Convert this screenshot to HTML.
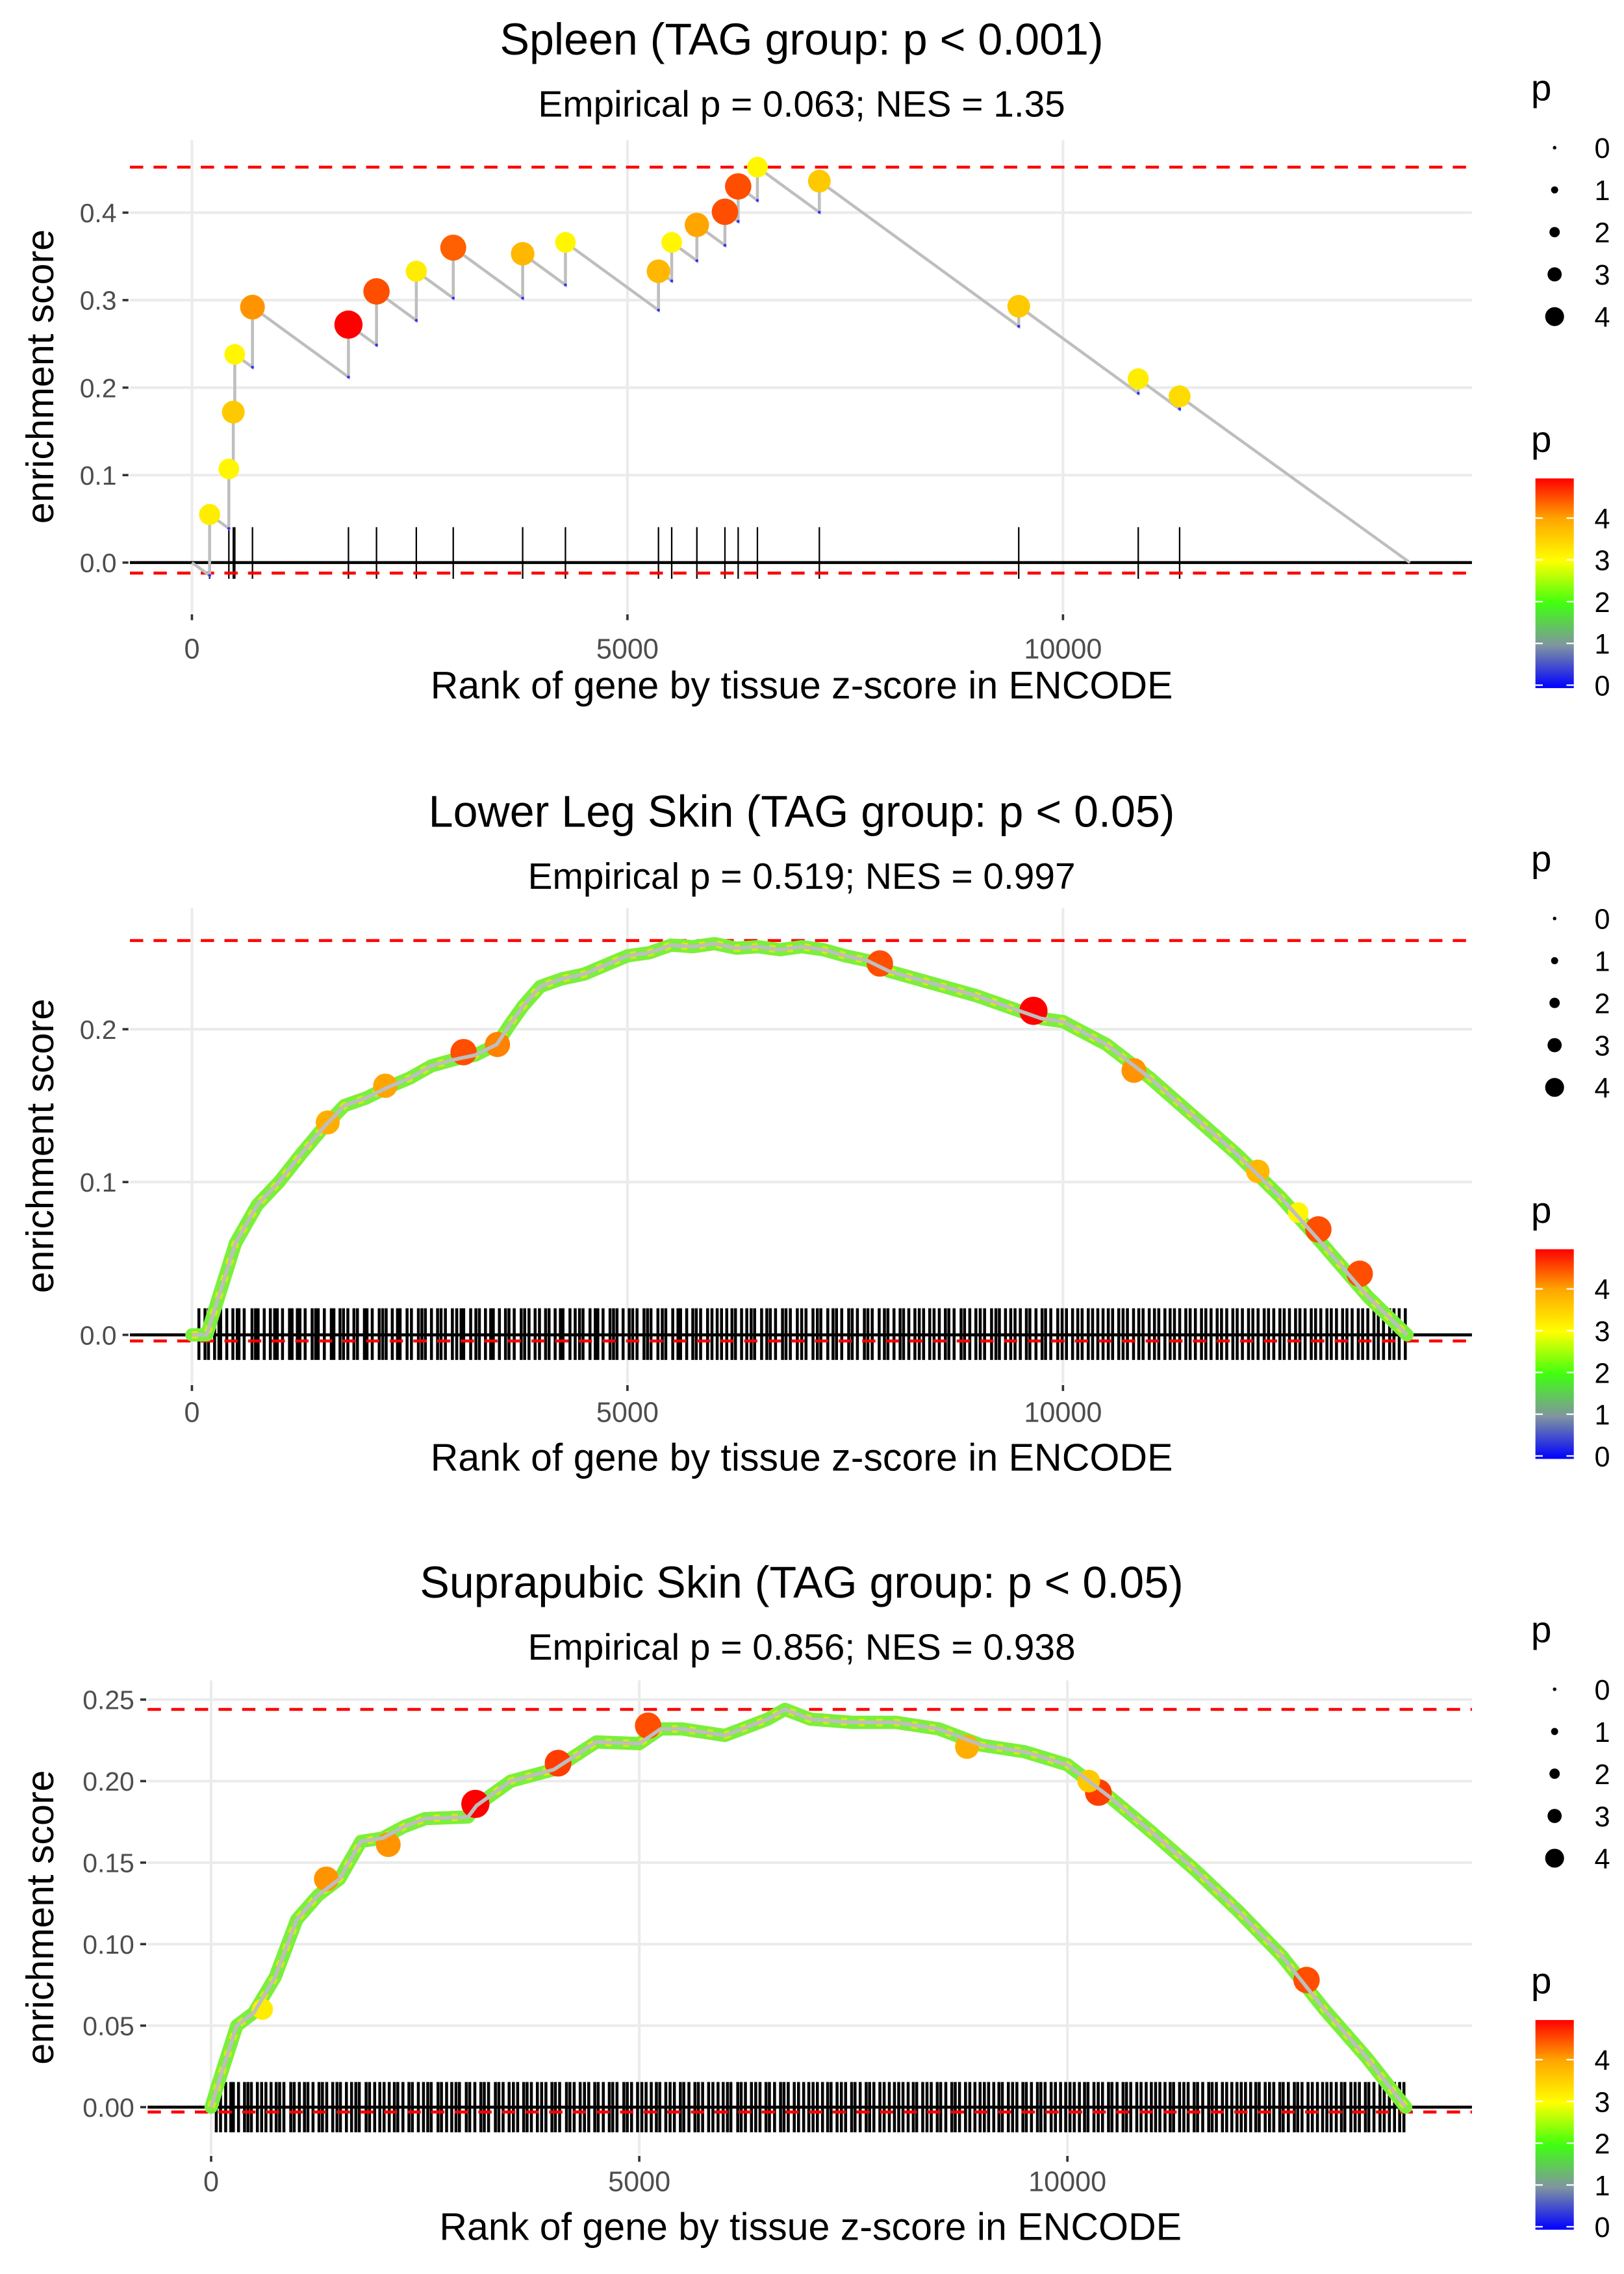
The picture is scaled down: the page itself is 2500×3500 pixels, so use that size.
<!DOCTYPE html>
<html><head><meta charset="utf-8"><style>
html,body{margin:0;padding:0;background:#fff;}
svg{display:block;font-family:"Liberation Sans",sans-serif;}
</style></head><body>
<svg id="chart" width="2500" height="3500" viewBox="0 0 1100 1540" preserveAspectRatio="none"></svg>
<script>
// ---------- Panel 1 (Spleen) data ----------
const p1HitRanks = [203,424,475,492,695,1797,2119,2576,3000,3797,4288,5356,5508,5797,6119,6271,6492,7203,9492,10864,11339];
const p1HitPeaks = [0.055,0.107,0.172,0.238,0.292,0.272,0.310,0.333,0.360,0.353,0.366,0.333,0.366,0.386,0.401,0.430,0.452,0.436,0.293,0.210,0.190];
const p1HitP = [3.2,3.1,3.6,3.1,4.1,4.95,4.5,3.2,4.4,3.8,3.1,3.8,3.1,4.0,4.5,4.5,3.1,3.6,3.6,3.2,3.4];
const p1EndRank = 13983;
const p1Ticks = [0.0,0.1,0.2,0.3,0.4];
const p1TickLabels = ["0.0","0.1","0.2","0.3","0.4"];
const p1Max = 0.452, p1Min = -0.012;

// ---------- Panel 2 (Lower Leg Skin) data ----------
const p2CurveRanks = [0,170,500,750,1000,1250,1500,1750,2000,2250,2500,2750,3000,3250,3500,3650,3800,4000,4250,4500,4750,5000,5250,5500,5750,6000,6250,6500,6750,7000,7250,7500,7750,8000,8500,9000,9500,9750,10000,10500,11000,11500,12000,12500,13000,13500,13950];
const p2CurveScores = [0,0,0.060,0.085,0.100,0.118,0.135,0.150,0.155,0.162,0.168,0.176,0.180,0.183,0.190,0.203,0.215,0.228,0.233,0.236,0.242,0.248,0.250,0.255,0.254,0.256,0.253,0.254,0.252,0.254,0.252,0.248,0.245,0.238,0.230,0.222,0.212,0.207,0.205,0.190,0.168,0.143,0.118,0.090,0.058,0.025,0];
const p2DotRanks = [9661,7898,3119,3508,2220,12932,13407,10814,12237,1559,12700];
const p2DotScores = [0.212,0.243,0.185,0.190,0.163,0.069,0.040,0.173,0.107,0.139,0.080];
const p2DotP = [4.95,4.5,4.5,4.2,4.0,4.5,4.5,4.1,3.8,3.9,3.1];
const p2Rug = [80,150,190,260,310,330,400,470,520,540,600,690,730,760,830,900,950,980,1040,1120,1150,1210,1240,1300,1380,1420,1450,1520,1600,1630,1700,1740,1790,1860,1900,1980,2010,2070,2150,2190,2230,2300,2360,2390,2470,2520,2600,2640,2680,2750,2820,2860,2910,2990,3040,3090,3120,3200,3260,3300,3370,3430,3460,3530,3600,3640,3700,3780,3820,3870,3940,3990,4060,4100,4170,4230,4260,4340,4400,4450,4490,4570,4630,4660,4720,4800,4840,4880,4950,5020,5060,5110,5190,5230,5270,5350,5400,5440,5520,5580,5610,5680,5750,5790,5840,5920,5970,6030,6080,6140,6200,6240,6310,6370,6420,6460,6540,6600,6640,6700,6780,6820,6870,6950,7000,7050,7130,7180,7220,7300,7360,7400,7460,7540,7580,7640,7720,7760,7810,7890,7950,7990,8060,8130,8170,8230,8300,8350,8400,8470,8520,8580,8650,8690,8750,8830,8870,8930,9000,9050,9100,9180,9230,9270,9340,9400,9450,9510,9580,9620,9690,9760,9800,9860,9940,9990,10040,10110,10170,10220,10290,10340,10400,10460,10520,10570,10640,10690,10740,10810,10870,10920,10990,11050,11100,11170,11230,11280,11340,11410,11460,11520,11590,11640,11700,11770,11820,11880,11950,12000,12060,12130,12180,12240,12310,12360,12420,12490,12540,12600,12670,12720,12780,12850,12900,12960,13030,13080,13140,13210,13260,13320,13390,13440,13500,13570,13620,13680,13750,13800,13860,13930];
const p2Ticks = [0.0,0.1,0.2];
const p2TickLabels = ["0.0","0.1","0.2"];
const p2Max = 0.258, p2Min = -0.004;

// ---------- Panel 3 (Suprapubic Skin) data ----------
const p3CurveRanks = [0,86,300,500,750,1000,1250,1500,1750,2000,2250,2500,3000,3100,3500,4000,4500,5000,5250,5500,6000,6500,6700,7000,7500,8000,8500,9000,9500,10000,10500,11000,11500,12000,12500,13000,13500,13950];
const p3CurveScores = [0,0.015,0.050,0.058,0.080,0.115,0.130,0.140,0.163,0.165,0.172,0.177,0.178,0.185,0.200,0.207,0.224,0.223,0.232,0.232,0.228,0.238,0.244,0.238,0.236,0.236,0.232,0.222,0.218,0.210,0.190,0.168,0.145,0.120,0.093,0.060,0.030,0];
const p3DotRanks = [3086,4052,5103,10362,12793,1345,2069,8828,10250,600];
const p3DotScores = [0.186,0.211,0.234,0.193,0.078,0.140,0.161,0.221,0.200,0.060];
const p3DotP = [4.95,4.6,4.5,4.6,4.5,4.1,4.1,3.9,3.6,3.2];
const p3Rug = [60,110,170,230,260,320,390,430,470,540,590,640,700,760,800,850,930,970,1030,1090,1130,1190,1260,1300,1350,1420,1470,1510,1580,1640,1690,1730,1810,1850,1910,1970,2020,2080,2140,2180,2240,2310,2350,2420,2480,2530,2570,2650,2690,2750,2810,2860,2900,2980,3020,3080,3150,3190,3240,3320,3360,3410,3480,3530,3580,3650,3690,3740,3810,3860,3910,3980,4020,4070,4150,4190,4240,4310,4360,4410,4480,4520,4580,4650,4690,4740,4820,4860,4910,4980,5030,5080,5140,5200,5240,5310,5360,5410,5480,5520,5580,5650,5690,5740,5810,5860,5920,5980,6030,6070,6150,6190,6240,6310,6360,6410,6480,6520,6580,6650,6690,6740,6810,6860,6920,6980,7030,7080,7140,7200,7240,7310,7360,7410,7480,7520,7580,7650,7690,7740,7810,7860,7920,7980,8030,8080,8140,8200,8240,8310,8360,8410,8480,8520,8580,8650,8690,8740,8810,8860,8920,8980,9030,9080,9140,9200,9240,9310,9360,9410,9480,9520,9580,9650,9690,9740,9810,9860,9920,9980,10030,10080,10140,10200,10240,10310,10360,10410,10480,10520,10580,10650,10690,10740,10810,10860,10920,10980,11030,11080,11140,11200,11240,11310,11360,11410,11480,11520,11580,11650,11690,11740,11810,11860,11920,11980,12030,12080,12140,12200,12240,12310,12360,12410,12480,12520,12580,12650,12690,12740,12810,12860,12920,12980,13030,13080,13140,13200,13240,13310,13360,13410,13480,13520,13580,13650,13700,13760,13820,13880,13930];
const p3Ticks = [0.00,0.05,0.10,0.15,0.20,0.25];
const p3TickLabels = ["0.00","0.05","0.10","0.15","0.20","0.25"];
const p3Max = 0.244, p3Min = -0.003;

const xTicks = [0,5000,10000];
const xTickLabels = ["0","5000","10000"];
const sizeLegendVals = [0,1,2,3,4];
const colorLegendVals = [0,1,2,3,4];

const svg = document.getElementById('chart');
const NS = 'http://www.w3.org/2000/svg';
function el(tag, attrs, parent){
  const e = document.createElementNS(NS, tag);
  for (const k in attrs) e.setAttribute(k, attrs[k]);
  (parent||svg).appendChild(e);
  return e;
}
function txt(s, attrs, parent){ const t = el('text', attrs, parent); t.textContent = s; return t; }

const stops = [[0,[0,0,255]],[1,[128,148,160]],[2,[64,255,16]],[3,[255,255,0]],[4,[255,165,0]],[4.95,[255,0,0]]];
function pColor(p){
  if (p<=0) return 'rgb(0,0,255)';
  for (let i=1;i<stops.length;i++){
    if (p<=stops[i][0]){
      const a=stops[i-1], b=stops[i], t=(p-a[0])/(b[0]-a[0]);
      const c=a[1].map((v,j)=>Math.round(v+(b[1][j]-v)*t));
      return 'rgb('+c.join(',')+')';
    }
  }
  return 'rgb(255,0,0)';
}
function pRadius(p){ return 2.2 + p*1.1; }

function panel(cfg){
  const g = el('g', {});
  
  
  const X = r => cfg.x0 + cfg.xs * r;
  const Y = v => cfg.y0 - cfg.ys * v;
  const t1 = txt(cfg.title, {x:543, y:cfg.titleY, 'font-size':30, 'text-anchor':'middle', fill:'#000'}, g);
   
  const t2 = txt(cfg.subtitle, {x:543, y:cfg.titleY+42, 'font-size':25, 'text-anchor':'middle', fill:'#000'}, g);
   
  cfg.ticks.forEach(v=>{
    const l = el('line',{x1:cfg.left,x2:997,y1:Y(v),y2:Y(v),stroke:'#ebebeb','stroke-width':1.8},g);
     
  });
  xTicks.forEach(v=>{
    const l = el('line',{x1:X(v),x2:X(v),y1:cfg.top,y2:cfg.bottom,stroke:'#ebebeb','stroke-width':1.8},g);
     
  });
  cfg.ticks.forEach((v,i)=>{
    const tk = el('line',{x1:cfg.left-5,x2:cfg.left-1,y1:Y(v),y2:Y(v),stroke:'#333','stroke-width':1.6},g);
     
    const lb = txt(cfg.tickLabels[i],{x:cfg.left-9,y:Y(v)+6.5,'font-size':18,'text-anchor':'end',fill:'#4d4d4d'},g);
     
  });
  xTicks.forEach((v,i)=>{
    const tk = el('line',{x1:X(v),x2:X(v),y1:cfg.bottom+1,y2:cfg.bottom+5,stroke:'#333','stroke-width':1.6},g);
     
    const lb = txt(xTickLabels[i],{x:X(v),y:cfg.tickY,'font-size':19,'text-anchor':'middle',fill:'#4d4d4d'},g);
     
  });
  const xt = txt('Rank of gene by tissue z-score in ENCODE',{x:cfg.xTitleX,y:cfg.xTitleY,'font-size':26,'text-anchor':'middle',fill:'#000'},g);
   
  const cy = (cfg.top+cfg.bottom)/2;
  const yt = txt('enrichment score',{x:0,y:0,'font-size':26,'text-anchor':'middle',fill:'#000',transform:'translate(36,'+cy+') rotate(-90)'},g);
   
  const rugG = el('g',{},g);
   
  cfg.rug.forEach(r=>{
    const l = el('line',{x1:X(r),x2:X(r),y1:cfg.rugTop,y2:cfg.rugBot,stroke:'#000','stroke-width':cfg.rugW},rugG);
     
  });
  const z = el('line',{x1:cfg.left,x2:997,y1:Y(0),y2:Y(0),stroke:'#000','stroke-width':2},g);
   
  [cfg.max,cfg.min].forEach((v,i)=>{
    const d = el('line',{x1:cfg.left,x2:997,y1:Y(v),y2:Y(v),stroke:'#ff0000','stroke-width':2,'stroke-dasharray':'9,7'},g);
     
  });
  return {g,X,Y};
}

function legend(off){
  const g = el('g',{});
   
  const t = txt('p',{x:1037,y:68+off,'font-size':25,fill:'#000'},g);
   
  sizeLegendVals.forEach((v,i)=>{
    const y = 100+off+i*28.6;
    const c = el('circle',{cx:1053,cy:y,r:[1.2,2.4,3.5,4.8,6.4][i],fill:'#000'},g);
     
    const l = txt(String(v),{x:1080,y:y+7,'font-size':19,fill:'#000'},g);
     
  });
  const t2 = txt('p',{x:1037,y:306+off,'font-size':25,fill:'#000'},g);
   
  const gid = 'cb'+off;
  const defs = el('defs',{},g);
  const lg = el('linearGradient',{id:gid,x1:0,y1:1,x2:0,y2:0},defs);
  stops.forEach(s=>{ el('stop',{offset:(s[0]/4.95),'stop-color':pColor(s[0])},lg); });
  const top=324+off, bot=466+off, unit=(bot-top)/4.95;
  const bar = el('rect',{x:1040,y:top,width:26,height:bot-top,fill:'url(#'+gid+')'},g);
   
  colorLegendVals.forEach(v=>{
    const y = bot-2-v*unit*(bot-top-2)/(bot-top);
    el('line',{x1:1040,x2:1045,y1:y,y2:y,stroke:'#fff','stroke-width':1},g);
    el('line',{x1:1061,x2:1066,y1:y,y2:y,stroke:'#fff','stroke-width':1},g);
    const l = txt(String(v),{x:1080,y:y+7,'font-size':19,fill:'#000'},g);
     
  });
}

(function(){
  const P = panel({name:'spleen-panel',title:'Spleen (TAG group: p < 0.001)',subtitle:'Empirical p = 0.063; NES = 1.35',titleY:37,
    x0:130,xs:0.059,y0:381,ys:592.5,left:88,top:95,bottom:415,tickY:446,xTitleX:543,xTitleY:473,ticks:p1Ticks,tickLabels:p1TickLabels,
    rug:p1HitRanks,rugTop:357,rugBot:392,rugW:1,max:p1Max,min:p1Min});
  const slope = 0.0000725;
  const pts = [[0,0]];
  let prevR = 0, prevV = 0;
  const bottoms = [];
  p1HitRanks.forEach((r,i)=>{
    const b = prevV - slope*(r-prevR);
    bottoms.push([r,b]);
    pts.push([r,b]); pts.push([r,p1HitPeaks[i]]);
    prevR = r; prevV = p1HitPeaks[i];
  });
  pts.push([p1EndRank,0]);
  const line = el('polyline',{points:pts.map(p=>P.X(p[0])+','+P.Y(p[1])).join(' '),fill:'none',stroke:'#bebebe','stroke-width':2},P.g);
   
  bottoms.forEach(b=>{
    const c = el('circle',{cx:P.X(b[0]),cy:P.Y(b[1]),r:1,fill:'#3030ff'},P.g);
     
  });
  p1HitRanks.forEach((r,i)=>{
    const c = el('circle',{cx:P.X(r),cy:P.Y(p1HitPeaks[i]),r:pRadius(p1HitP[i])*1.25,fill:pColor(p1HitP[i])},P.g);
     
  });
  legend(0);
})();

function curvePanel(cfg, ranks, scores, dR, dS, dP){
  const P = panel(cfg);
  const pts = ranks.map((r,i)=>P.X(r)+','+P.Y(scores[i])).join(' ');
  const band = el('polyline',{points:pts,fill:'none',stroke:'#7cef3c','stroke-width':9,'stroke-linejoin':'round','stroke-linecap':'round'},P.g);
   
  const band2 = el('polyline',{points:pts,fill:'none',stroke:'#d4f000','stroke-width':5,'stroke-linejoin':'round','stroke-dasharray':'4,8'},P.g);
   
  dR.forEach((r,i)=>{
    const c = el('circle',{cx:P.X(r),cy:P.Y(dS[i]),r:pRadius(dP[i])*1.25,fill:pColor(dP[i])},P.g);
     
  });
  const line = el('polyline',{points:pts,fill:'none',stroke:'#bebebe','stroke-width':2.5,'stroke-linejoin':'round'},P.g);
   
}

curvePanel({name:'lower-leg-skin-panel',title:'Lower Leg Skin (TAG group: p < 0.05)',subtitle:'Empirical p = 0.519; NES = 0.997',titleY:560,
  x0:130,xs:0.059,y0:904,ys:1035,left:88,top:615,bottom:937,tickY:963,xTitleX:543,xTitleY:996,ticks:p2Ticks,tickLabels:p2TickLabels,
  rug:p2Rug,rugTop:886,rugBot:921,rugW:2,max:p2Max,min:p2Min}, p2CurveRanks,p2CurveScores,p2DotRanks,p2DotScores,p2DotP);
legend(522);

curvePanel({name:'suprapubic-skin-panel',title:'Suprapubic Skin (TAG group: p < 0.05)',subtitle:'Empirical p = 0.856; NES = 0.938',titleY:1082,
  x0:143,xs:0.058,y0:1427,ys:1104,left:100,top:1138,bottom:1459,tickY:1484,xTitleX:549,xTitleY:1517,ticks:p3Ticks,tickLabels:p3TickLabels,
  rug:p3Rug,rugTop:1410,rugBot:1444,rugW:2,max:p3Max,min:p3Min}, p3CurveRanks,p3CurveScores,p3DotRanks,p3DotScores,p3DotP);
legend(1044);
</script>
</body></html>
